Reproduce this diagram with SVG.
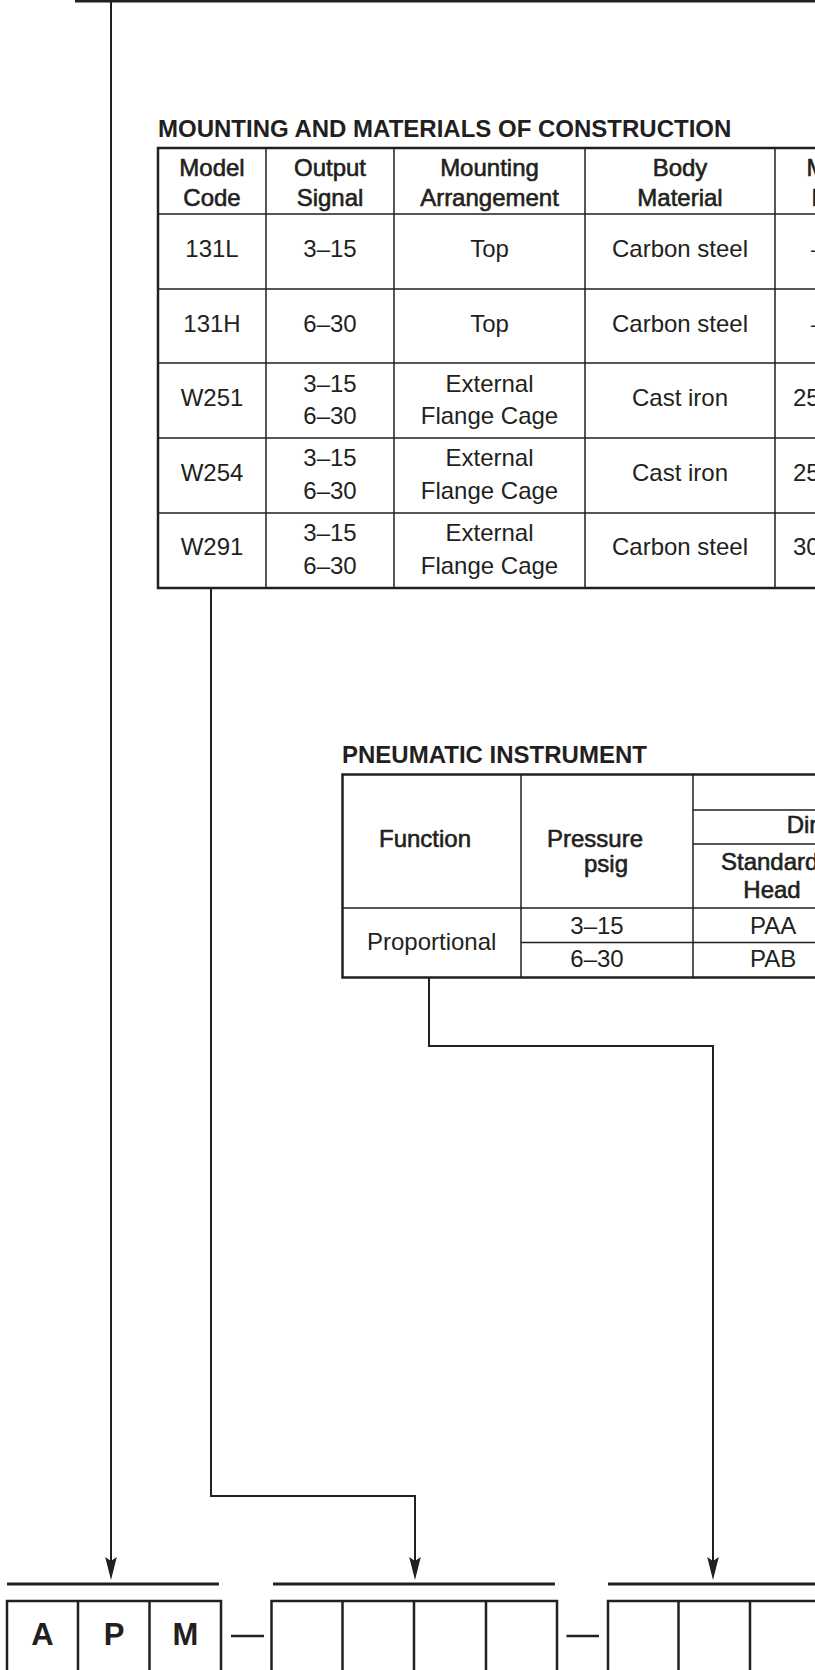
<svg xmlns="http://www.w3.org/2000/svg" width="815" height="1670" viewBox="0 0 815 1670">
<style>
text{font-family:"Liberation Sans",Arial,sans-serif;fill:#231f20}
.t{font-size:24px;font-weight:bold}
.h{font-size:24px;text-anchor:middle;stroke:#231f20;stroke-width:0.6}
.hs{font-size:24px;stroke:#231f20;stroke-width:0.6}
.b{font-size:24px;text-anchor:middle}
.bs{font-size:24px}
.big{font-size:31px;font-weight:bold;text-anchor:middle}
.o{stroke:#231f20;stroke-width:2.5;fill:none}
.i{stroke:#231f20;stroke-width:1.5;fill:none}
.c{stroke:#231f20;stroke-width:2;fill:none}
.bar{stroke:#231f20;stroke-width:3;fill:none}
.box{stroke:#231f20;stroke-width:2.5;fill:#fff}
</style>
<defs>
<marker id="arr" viewBox="0 0 23 12" refX="13" refY="6" markerWidth="23" markerHeight="12" markerUnits="userSpaceOnUse" orient="auto">
<path d="M0,0.2 L23,6 L0,11.8 L4,6 z" fill="#231f20"/>
</marker>
</defs>
<rect width="815" height="1670" fill="#fff"/>

<g id="table-mounting">
<text class="t" x="158" y="136.5">MOUNTING AND MATERIALS OF CONSTRUCTION</text>
<path class="i" d="M158,214H815M158,289H815M158,363H815M158,438H815M158,513H815M266,148V588M394,148V588M585,148V588M775,148V588"/>
<path class="o" d="M815,148H158V588H815"/>
<text class="h" x="212" y="176">Model</text><text class="h" x="212" y="206">Code</text>
<text class="h" x="330" y="176">Output</text><text class="h" x="330" y="206">Signal</text>
<text class="h" x="489.5" y="176">Mounting</text><text class="h" x="489.5" y="206">Arrangement</text>
<text class="h" x="680" y="176">Body</text><text class="h" x="680" y="206">Material</text>
<text class="hs" x="806.5" y="176">M</text><text class="hs" x="811.5" y="206">P</text>
<text class="b" x="212" y="257">131L</text><text class="b" x="330" y="257">3–15</text><text class="b" x="489.5" y="257">Top</text><text class="b" x="680" y="257">Carbon steel</text><text class="bs" x="811" y="257">–</text>
<text class="b" x="212" y="331.5">131H</text><text class="b" x="330" y="331.5">6–30</text><text class="b" x="489.5" y="331.5">Top</text><text class="b" x="680" y="331.5">Carbon steel</text><text class="bs" x="811" y="331.5">–</text>
<text class="b" x="212" y="406">W251</text><text class="b" x="330" y="391.5">3–15</text><text class="b" x="330" y="423.5">6–30</text><text class="b" x="489.5" y="391.5">External</text><text class="b" x="489.5" y="423.5">Flange Cage</text><text class="b" x="680" y="406">Cast iron</text><text class="bs" x="793" y="406">25</text>
<text class="b" x="212" y="480.5">W254</text><text class="b" x="330" y="466">3–15</text><text class="b" x="330" y="498.5">6–30</text><text class="b" x="489.5" y="466">External</text><text class="b" x="489.5" y="498.5">Flange Cage</text><text class="b" x="680" y="480.5">Cast iron</text><text class="bs" x="793" y="480.5">25</text>
<text class="b" x="212" y="555">W291</text><text class="b" x="330" y="541">3–15</text><text class="b" x="330" y="573.5">6–30</text><text class="b" x="489.5" y="541">External</text><text class="b" x="489.5" y="573.5">Flange Cage</text><text class="b" x="680" y="555">Carbon steel</text><text class="bs" x="793" y="555">30</text>
</g>

<g id="table-pneumatic">
<text class="t" x="342" y="763.3">PNEUMATIC INSTRUMENT</text>
<path class="i" d="M521,774.5V977.5M693,774.5V977.5M693,810H815M693,844H815M342.5,908H815M521,942.5H815"/>
<path class="o" d="M815,774.5H342.5V977.5H815"/>
<text class="h" x="425" y="846.7">Function</text>
<text class="h" x="595" y="846.7">Pressure</text><text class="h" x="606" y="872">psig</text>
<text class="hs" x="786.7" y="832.7">Dir</text>
<text class="hs" x="721" y="870">Standard</text><text class="hs" x="743.3" y="898">Head</text>
<text class="b" x="431.7" y="950">Proportional</text>
<text class="b" x="597" y="934">3–15</text><text class="b" x="597" y="967">6–30</text>
<text class="bs" x="750" y="934">PAA</text><text class="bs" x="750" y="967">PAB</text>
</g>

<g id="connectors">
<path class="o" d="M75,1.3H815"/>
<path class="c" d="M111,0V1570" marker-end="url(#arr)"/>
<path class="c" d="M211,588V1496H415V1570" marker-end="url(#arr)"/>
<path class="c" d="M429,977V1046H713V1570" marker-end="url(#arr)"/>
</g>

<g id="code-group-1">
<path class="bar" d="M7,1584H219"/>
<rect class="box" x="7" y="1601" width="214" height="75"/>
<path class="box" d="M78,1601V1676M149.5,1601V1676"/>
<text class="big" x="42.5" y="1644.5">A</text>
<text class="big" x="114" y="1644.5">P</text>
<text class="big" x="185.5" y="1644.5">M</text>
</g>
<path class="o" d="M231,1636H264"/>
<g id="code-group-2">
<path class="bar" d="M273,1584H555"/>
<rect class="box" x="271.5" y="1601" width="285.5" height="75"/>
<path class="box" d="M342.5,1601V1676M414,1601V1676M486,1601V1676"/>
</g>
<path class="o" d="M566.5,1636H599"/>
<g id="code-group-3">
<path class="bar" d="M608,1584H815"/>
<rect class="box" x="608" y="1601" width="220" height="75"/>
<path class="box" d="M678.5,1601V1676M750,1601V1676"/>
</g>
</svg>
